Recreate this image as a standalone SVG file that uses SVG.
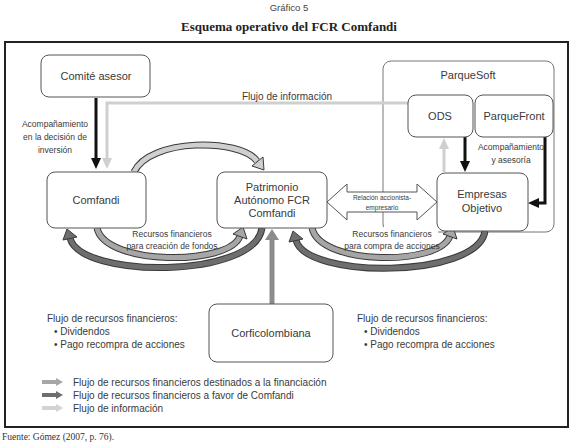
<svg xmlns="http://www.w3.org/2000/svg" width="578" height="446" viewBox="0 0 578 446">
<style>
.box{fill:#fff;stroke:#555;stroke-width:1}
.lbl{font-family:"Liberation Sans",Arial,sans-serif;font-size:11px;fill:#3a3a3a;text-anchor:middle}
.sm{font-family:"Liberation Sans",Arial,sans-serif;font-size:8.5px;fill:#3a3a3a;text-anchor:middle}
.xs{font-family:"Liberation Sans",Arial,sans-serif;font-size:6.5px;fill:#3a3a3a;text-anchor:middle}
.txt{font-family:"Liberation Sans",Arial,sans-serif;font-size:10px;fill:#3a3a3a}
.ol{fill:none;stroke:#3a3a3a;stroke-width:7}
.fin{fill:none;stroke:#a6a6a6;stroke-width:5}
.fav{fill:none;stroke:#6e6e6e;stroke-width:5}
.top{fill:none;stroke:#cfcfcf;stroke-width:5}
</style>
<rect width="578" height="446" fill="#fff"/>
<text x="289" y="11" style="font-family:'Liberation Sans',Arial,sans-serif;font-size:9.5px;fill:#444" text-anchor="middle">Gráfico 5</text>
<text x="289" y="31" style="font-family:'Liberation Serif','Times New Roman',serif;font-size:13px;font-weight:bold;fill:#222" text-anchor="middle">Esquema operativo del FCR Comfandi</text>
<rect x="5" y="42" width="563" height="385" fill="none" stroke="#222" stroke-width="2"/>

<g id="parquesoft">
<rect x="383" y="61" width="171" height="171" rx="8" fill="#fff" stroke="#777" stroke-width="1"/>
<text class="lbl" x="468" y="79">ParqueSoft</text>
</g>

<g id="connectors">
<polyline points="408,103 107,103 107,160" fill="none" stroke="#cfcfcf" stroke-width="3"/>
<polygon points="107,169 102,158 112,158" fill="#cfcfcf"/>
<text class="txt" x="287" y="100" text-anchor="middle">Flujo de información</text>
<line x1="96" y1="98" x2="96" y2="160" stroke="#111" stroke-width="3"/>
<polygon points="96,169 91,158 101,158" fill="#111"/>
<text class="sm" x="55" y="127">Acompañamiento</text>
<text class="sm" x="55" y="140">en la decisión de</text>
<text class="sm" x="55" y="153">inversión</text>
<line x1="444" y1="172" x2="444" y2="147" stroke="#cfcfcf" stroke-width="3"/>
<polygon points="444,138 439,149 449,149" fill="#cfcfcf"/>
<line x1="465" y1="137" x2="465" y2="162" stroke="#111" stroke-width="3"/>
<polygon points="465,172 460,161 470,161" fill="#111"/>
<polyline points="545,137 545,203 537,203" fill="none" stroke="#111" stroke-width="3"/>
<polygon points="528,203 539,198 539,208" fill="#111"/>
<text class="sm" x="511" y="150">Acompañamiento</text>
<text class="sm" x="511" y="163">y asesoría</text>
<path class="ol" d="M134,172 C150,138 240,138 257,161"/>
<path class="top" d="M134,172 C150,138 240,138 257,161"/>
<polygon points="264,170 252,166 263,157" fill="#cfcfcf" stroke="#3a3a3a" stroke-width="1"/>
<path class="ol" d="M262,228 C255,279 80,279 70,238"/>
<path class="fav" d="M262,228 C255,279 80,279 70,238"/>
<polygon points="67,229 77,237 63,240" fill="#6e6e6e" stroke="#3a3a3a" stroke-width="1"/>
<path class="ol" d="M97,228 C105,266 230,266 240,236"/>
<path class="fin" d="M97,228 C105,266 230,266 240,236"/>
<polygon points="243,227 247,239 233,234" fill="#a6a6a6" stroke="#3a3a3a" stroke-width="1"/>
<text class="sm" x="172" y="237">Recursos financieros</text>
<text class="sm" x="172" y="249">para creación de fondos</text>
<path class="ol" d="M485,231 C478,279 305,279 296,240"/>
<path class="fav" d="M485,231 C478,279 305,279 296,240"/>
<polygon points="293,231 303,239 289,242" fill="#6e6e6e" stroke="#3a3a3a" stroke-width="1"/>
<path class="ol" d="M312,228 C320,266 440,266 450,236"/>
<path class="fin" d="M312,228 C320,266 440,266 450,236"/>
<polygon points="453,227 457,239 443,234" fill="#a6a6a6" stroke="#3a3a3a" stroke-width="1"/>
<rect x="340" y="227" width="98" height="10" fill="#fff"/>
<text class="sm" x="392" y="237">Recursos financieros</text>
<text class="sm" x="392" y="249">para compra de acciones</text>
<line x1="272" y1="304" x2="272" y2="238" stroke="#8c8c8c" stroke-width="5"/>
<polygon points="272,229 265,240 279,240" fill="#8c8c8c"/>
<polygon points="327,202 347,184 347,192 417,192 417,184 437,202 417,220 417,212 347,212 347,220" fill="#fff" stroke="#555" stroke-width="1"/>
<text class="xs" x="382" y="200">Relación accionista-</text>
<text class="xs" x="382" y="210">empresario</text>
</g>

<g id="comite"><rect class="box" x="41" y="55" width="109" height="42" rx="8"/><text class="lbl" x="96" y="80">Comité asesor</text></g>
<g id="ods"><rect class="box" x="408" y="95" width="65" height="42" rx="8"/><text class="lbl" x="440" y="120">ODS</text></g>
<g id="parquefront"><rect class="box" x="475" y="95" width="78" height="42" rx="8"/><text class="lbl" x="514" y="120">ParqueFront</text></g>
<g id="comfandi"><rect class="box" x="47" y="172" width="99" height="56" rx="8"/><text class="lbl" x="96" y="204">Comfandi</text></g>
<g id="patrimonio"><rect class="box" x="217" y="172" width="110" height="56" rx="8"/><text class="lbl" x="272" y="191">Patrimonio</text><text class="lbl" x="272" y="204">Autónomo FCR</text><text class="lbl" x="272" y="217">Comfandi</text></g>
<g id="empresas"><rect class="box" x="437" y="173" width="91" height="58" rx="8"/><text class="lbl" x="482" y="198">Empresas</text><text class="lbl" x="482" y="212">Objetivo</text></g>
<g id="corficolombiana"><rect class="box" x="209" y="304" width="124" height="58" rx="8"/><text class="lbl" x="271" y="337">Corficolombiana</text></g>

<g id="notes">
<text class="txt" x="47" y="322">Flujo de recursos financieros:</text>
<text class="txt" x="54" y="335">• Dividendos</text>
<text class="txt" x="54" y="348">• Pago recompra de acciones</text>
<text class="txt" x="357" y="322">Flujo de recursos financieros:</text>
<text class="txt" x="364" y="335">• Dividendos</text>
<text class="txt" x="364" y="348">• Pago recompra de acciones</text>
</g>

<g id="legend">
<polygon points="42,380 56,380 56,378 63,382 56,386 56,384 42,384" fill="#a6a6a6"/>
<polygon points="42,393 56,393 56,391 63,395 56,399 56,397 42,397" fill="#6e6e6e"/>
<polygon points="42,406 56,406 56,404 63,408 56,412 56,410 42,410" fill="#d2d2d2"/>
<text class="txt" x="73" y="386">Flujo de recursos financieros destinados a la financiación</text>
<text class="txt" x="73" y="399">Flujo de recursos financieros a favor de Comfandi</text>
<text class="txt" x="73" y="412">Flujo de información</text>
</g>
<text x="2" y="440" style="font-family:'Liberation Serif','Times New Roman',serif;font-size:9.5px;fill:#333">Fuente: Gómez (2007, p. 76).</text>
</svg>
